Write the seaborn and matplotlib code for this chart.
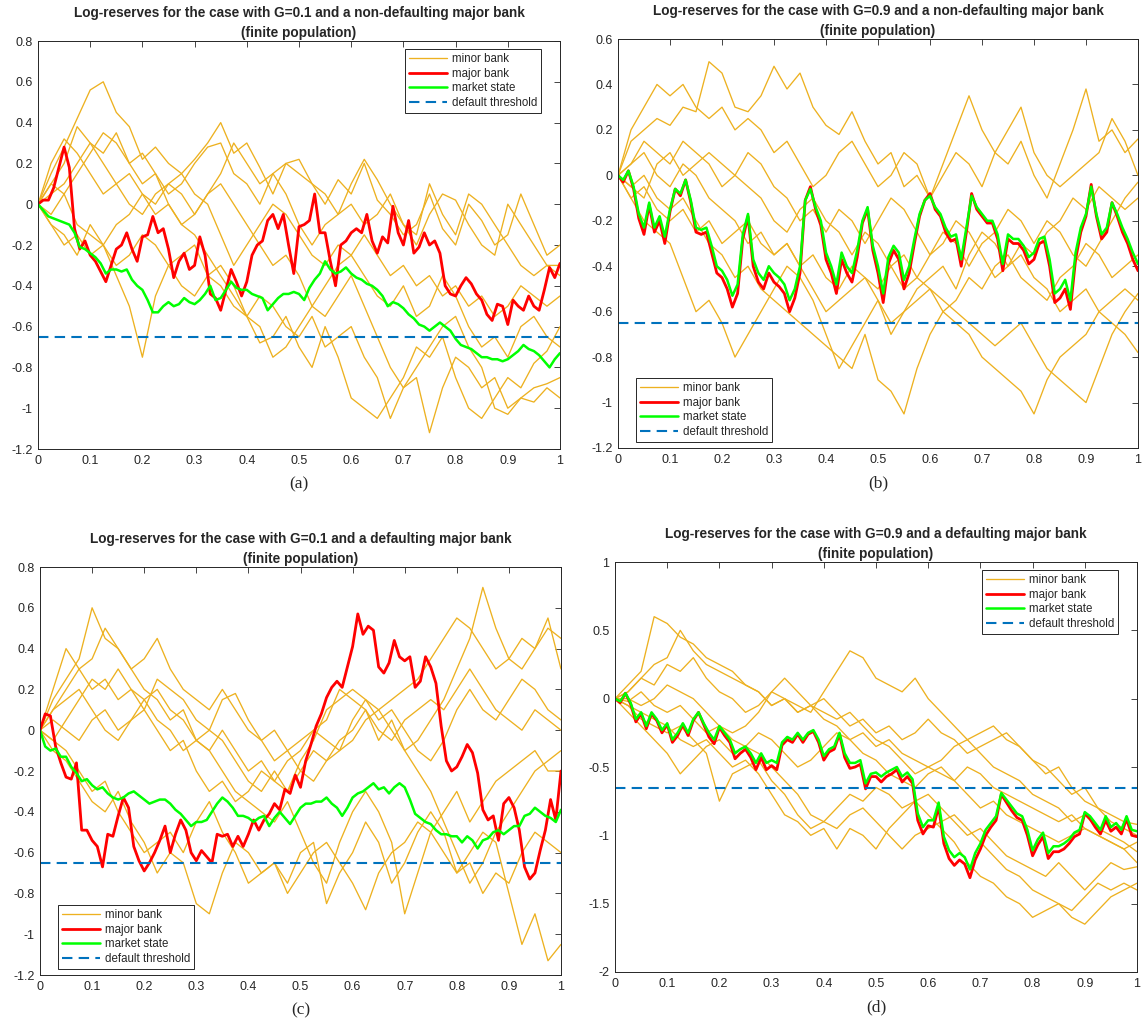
import numpy as np
import seaborn as sns
import matplotlib.pyplot as plt

# ---------------- data ----------------
# time grids
t_fine = np.round(np.arange(0, 101) / 100, 2)      # major bank / market state
t_coarse = np.round(np.arange(0, 41) / 40, 3)      # minor banks

# (a) G=0.1, non-defaulting major bank
minor_a = [
    [0, 0.15, 0.28, 0.42, 0.56, 0.6, 0.45, 0.38, 0.22, 0.28, 0.2, 0.15, 0.22, 0.3, 0.4, 0.25, 0.3, 0.18, 0.05, 0.2,
     0.15, 0.1, 0.0, 0.12, 0.05, 0.2, 0.02, -0.05, -0.15, -0.1, 0.05, -0.12, -0.2, 0.0, -0.08, -0.2, -0.15, 0.05, -0.1, -0.25, -0.2],
    [0, 0.1, 0.2, 0.38, 0.3, 0.25, 0.35, 0.2, 0.1, 0.15, 0.05, 0.1, 0.2, 0.28, 0.3, 0.15, 0.1, 0.0, 0.15, 0.2,
     0.22, 0.1, 0.05, -0.05, 0.1, 0.22, 0.12, 0.0, -0.1, -0.2, -0.05, 0.05, 0.02, -0.1, -0.2, -0.25, 0.0, -0.1, -0.2, -0.3, -0.35],
    [0, -0.05, 0.05, -0.1, -0.15, -0.2, -0.35, -0.5, -0.75, -0.45, -0.3, -0.25, -0.2, -0.35, -0.4, -0.5, -0.55, -0.6, -0.75, -0.7,
     -0.6, -0.5, -0.55, -0.45, -0.35, -0.5, -0.65, -0.8, -0.9, -0.85, -1.12, -0.9, -0.75, -0.8, -0.9, -0.85, -1.0, -0.95, -0.9, -0.88, -0.85],
    [0, -0.1, -0.2, -0.15, -0.25, -0.2, -0.1, -0.05, 0.05, -0.05, 0.0, -0.1, -0.15, -0.25, -0.35, -0.45, -0.55, -0.68, -0.65, -0.55,
     -0.7, -0.8, -0.6, -0.75, -0.95, -1.0, -1.05, -0.95, -0.85, -0.7, -0.75, -0.65, -0.85, -1.0, -1.05, -0.95, -0.85, -0.9, -0.78, -0.72, -0.6],
    [0, 0.05, 0.1, 0.2, 0.3, 0.2, 0.1, 0.15, 0.05, 0.0, 0.1, 0.05, -0.05, 0.05, 0.1, 0.0, -0.1, -0.2, -0.3, -0.25,
     -0.35, -0.5, -0.4, -0.3, -0.25, -0.35, -0.45, -0.5, -0.4, -0.55, -0.5, -0.35, -0.45, -0.6, -0.7, -0.65, -0.75, -0.6, -0.55, -0.65, -0.7],
    [0, 0.2, 0.32, 0.25, 0.15, 0.05, 0.1, 0.0, -0.05, 0.05, 0.1, 0.15, 0.05, 0.0, -0.15, -0.3, -0.2, -0.1, 0.0, -0.05,
     -0.15, -0.25, -0.3, -0.2, -0.25, -0.15, -0.25, -0.35, -0.3, -0.4, -0.35, -0.45, -0.4, -0.5, -0.45, -0.55, -0.5, -0.4, -0.45, -0.5, -0.45],
    [0, -0.1, -0.15, -0.25, -0.1, -0.2, -0.3, -0.25, -0.15, -0.2, -0.3, -0.4, -0.45, -0.35, -0.3, -0.4, -0.55, -0.45, -0.5, -0.6,
     -0.65, -0.55, -0.7, -0.65, -0.6, -0.75, -0.85, -1.05, -0.9, -0.8, -0.7, -0.6, -0.55, -0.7, -0.8, -1.0, -1.03, -0.95, -0.97, -0.9, -0.95],
    [0, 0.1, 0.05, 0.15, 0.25, 0.35, 0.3, 0.2, 0.25, 0.15, 0.0, -0.1, -0.05, 0.05, 0.15, 0.3, 0.2, 0.1, 0.15, 0.05,
     -0.1, -0.2, -0.1, -0.05, 0.0, -0.1, -0.05, 0.05, -0.1, -0.15, 0.1, -0.05, -0.15, 0.05, 0.0, -0.1, -0.2, -0.3, -0.35, -0.3, -0.3],
]
major_a = [0, 0.02, 0.02, 0.08, 0.18, 0.28, 0.18, -0.12, -0.22, -0.18,
           -0.25, -0.28, -0.33, -0.38, -0.30, -0.22, -0.20, -0.14, -0.22, -0.28,
           -0.16, -0.15, -0.06, -0.14, -0.12, -0.22, -0.36, -0.28, -0.24, -0.32,
           -0.30, -0.16, -0.25, -0.44, -0.46, -0.52, -0.42, -0.32, -0.38, -0.45,
           -0.38, -0.25, -0.20, -0.18, -0.08, -0.05, -0.12, -0.05, -0.20, -0.34,
           -0.11, -0.10, -0.08, 0.05, -0.14, -0.14, -0.28, -0.40, -0.20, -0.18,
           -0.14, -0.12, -0.14, -0.05, -0.18, -0.24, -0.16, -0.19, -0.01, -0.14,
           -0.20, -0.08, -0.24, -0.21, -0.14, -0.20, -0.18, -0.24, -0.40, -0.44,
           -0.45, -0.40, -0.36, -0.39, -0.44, -0.47, -0.54, -0.57, -0.49, -0.50,
           -0.59, -0.47, -0.50, -0.52, -0.45, -0.50, -0.52, -0.42, -0.31, -0.36,
           -0.29]
market_a = [0, -0.03, -0.06, -0.07, -0.08, -0.09, -0.10, -0.14, -0.21, -0.22,
            -0.24, -0.26, -0.29, -0.34, -0.32, -0.32, -0.33, -0.32, -0.37, -0.40,
            -0.42, -0.47, -0.53, -0.53, -0.50, -0.48, -0.50, -0.49, -0.46, -0.48,
            -0.49, -0.47, -0.44, -0.40, -0.47, -0.46, -0.42, -0.38, -0.41, -0.42,
            -0.42, -0.44, -0.45, -0.46, -0.52, -0.49, -0.46, -0.44, -0.44, -0.43,
            -0.44, -0.47, -0.41, -0.37, -0.34, -0.28, -0.32, -0.34, -0.33, -0.31,
            -0.34, -0.36, -0.37, -0.39, -0.40, -0.42, -0.45, -0.50, -0.48, -0.49,
            -0.51, -0.54, -0.56, -0.59, -0.60, -0.62, -0.60, -0.58, -0.60, -0.62,
            -0.66, -0.69, -0.70, -0.71, -0.73, -0.75, -0.75, -0.76, -0.76, -0.77,
            -0.76, -0.74, -0.72, -0.69, -0.71, -0.72, -0.74, -0.77, -0.80, -0.76,
            -0.73]

# (b) G=0.9, non-defaulting major bank
minor_b = [
    [0, 0.15, 0.2, 0.25, 0.22, 0.3, 0.28, 0.5, 0.45, 0.3, 0.28, 0.35, 0.48, 0.38, 0.45, 0.3, 0.22, 0.18, 0.28, 0.15,
     0.05, 0.1, -0.05, 0.0, -0.1, 0.05, 0.2, 0.35, 0.2, 0.1, 0.05, 0.15, 0.0, -0.1, 0.05, 0.2, 0.38, 0.15, 0.2, 0.1, 0.16],
    [0, 0.2, 0.3, 0.4, 0.35, 0.4, 0.3, 0.25, 0.3, 0.2, 0.25, 0.2, 0.1, 0.15, 0.05, -0.05, 0.0, 0.1, 0.15, 0.05,
     -0.05, 0.0, 0.1, 0.05, -0.1, 0.0, 0.1, 0.05, -0.05, 0.1, 0.2, 0.3, 0.1, 0.0, -0.05, 0.0, 0.05, 0.1, 0.25, 0.15, 0.0],
    [0, -0.1, -0.2, -0.25, -0.3, -0.45, -0.6, -0.55, -0.65, -0.8, -0.7, -0.6, -0.5, -0.4, -0.45, -0.55, -0.7, -0.85, -0.75, -0.65,
     -0.55, -0.7, -0.6, -0.5, -0.45, -0.4, -0.5, -0.35, -0.25, -0.3, -0.4, -0.35, -0.45, -0.5, -0.6, -0.55, -0.5, -0.6, -0.55, -0.5, -0.55],
    [0, -0.05, 0.0, -0.1, -0.15, -0.1, -0.2, -0.3, -0.35, -0.45, -0.4, -0.5, -0.55, -0.6, -0.65, -0.7, -0.75, -0.8, -0.85, -0.7,
     -0.9, -0.95, -1.05, -0.85, -0.7, -0.6, -0.55, -0.45, -0.5, -0.4, -0.35, -0.45, -0.5, -0.55, -0.45, -0.4, -0.3, -0.35, -0.45, -0.4, -0.35],
    [0, 0.05, 0.1, 0.0, -0.05, 0.05, 0.0, -0.1, -0.15, -0.2, -0.3, -0.25, -0.35, -0.3, -0.4, -0.5, -0.6, -0.55, -0.5, -0.45,
     -0.55, -0.65, -0.6, -0.55, -0.5, -0.6, -0.65, -0.7, -0.8, -0.85, -0.9, -0.95, -1.05, -0.9, -0.8, -0.75, -0.7, -0.6, -0.65, -0.7, -0.78],
    [0, -0.1, -0.05, -0.15, -0.2, -0.15, -0.25, -0.2, -0.3, -0.25, -0.2, -0.3, -0.35, -0.3, -0.4, -0.35, -0.45, -0.5, -0.4, -0.45,
     -0.5, -0.4, -0.35, -0.45, -0.5, -0.55, -0.6, -0.65, -0.7, -0.75, -0.7, -0.65, -0.75, -0.85, -0.9, -0.95, -1.0, -0.85, -0.7, -0.6, -0.52],
    [0, 0.05, 0.15, 0.1, 0.05, 0.15, 0.1, 0.05, -0.05, 0.0, 0.1, 0.05, -0.05, -0.1, -0.2, -0.15, -0.25, -0.15, -0.2, -0.3,
     -0.2, -0.1, -0.15, -0.25, -0.35, -0.3, -0.2, -0.25, -0.35, -0.45, -0.4, -0.3, -0.35, -0.25, -0.2, -0.1, -0.15, -0.05, -0.1, -0.15, -0.1],
    [0, -0.05, -0.1, 0.05, 0.1, 0.0, 0.05, 0.1, 0.05, 0.0, -0.05, -0.1, -0.2, -0.25, -0.15, -0.1, -0.2, -0.25, -0.35, -0.25,
     -0.3, -0.4, -0.5, -0.45, -0.35, -0.25, -0.3, -0.4, -0.3, -0.25, -0.15, -0.2, -0.3, -0.2, -0.25, -0.35, -0.4, -0.3, -0.2, -0.1, -0.03],
]
major_b = [0, -0.03, 0.02, -0.06, -0.19, -0.26, -0.13, -0.25, -0.20, -0.30,
           -0.16, -0.06, -0.09, -0.02, -0.12, -0.25, -0.26, -0.25, -0.34, -0.43,
           -0.45, -0.50, -0.58, -0.52, -0.28, -0.18, -0.40, -0.47, -0.50, -0.43,
           -0.47, -0.49, -0.52, -0.60, -0.54, -0.43, -0.11, -0.05, -0.15, -0.22,
           -0.37, -0.43, -0.52, -0.37, -0.43, -0.47, -0.36, -0.21, -0.15, -0.33,
           -0.43, -0.56, -0.39, -0.33, -0.37, -0.50, -0.43, -0.30, -0.18, -0.11,
           -0.08, -0.15, -0.18, -0.25, -0.29, -0.28, -0.40, -0.25, -0.08, -0.15,
           -0.18, -0.21, -0.21, -0.28, -0.42, -0.28, -0.30, -0.30, -0.33, -0.39,
           -0.37, -0.30, -0.29, -0.40, -0.56, -0.54, -0.50, -0.59, -0.37, -0.25,
           -0.18, -0.04, -0.18, -0.28, -0.25, -0.12, -0.18, -0.25, -0.30, -0.37,
           -0.42]
market_b = [0, -0.02, 0.02, -0.05, -0.17, -0.23, -0.12, -0.23, -0.18, -0.27,
            -0.15, -0.06, -0.08, -0.02, -0.11, -0.23, -0.24, -0.23, -0.31, -0.40,
            -0.42, -0.46, -0.53, -0.48, -0.26, -0.17, -0.37, -0.43, -0.46, -0.40,
            -0.43, -0.45, -0.48, -0.55, -0.50, -0.40, -0.11, -0.06, -0.14, -0.20,
            -0.34, -0.40, -0.48, -0.34, -0.40, -0.43, -0.33, -0.20, -0.14, -0.31,
            -0.40, -0.52, -0.36, -0.31, -0.34, -0.46, -0.40, -0.28, -0.17, -0.11,
            -0.09, -0.14, -0.17, -0.23, -0.27, -0.26, -0.37, -0.23, -0.09, -0.14,
            -0.17, -0.20, -0.20, -0.26, -0.39, -0.26, -0.28, -0.28, -0.31, -0.36,
            -0.34, -0.28, -0.27, -0.37, -0.52, -0.50, -0.46, -0.55, -0.34, -0.23,
            -0.17, -0.05, -0.17, -0.26, -0.23, -0.12, -0.17, -0.23, -0.28, -0.34,
            -0.39]

# (c) G=0.1, defaulting major bank
minor_c = [
    [0, 0.15, 0.25, 0.35, 0.6, 0.45, 0.4, 0.3, 0.2, 0.15, 0.05, 0.1, -0.05, -0.1, 0.0, -0.1, -0.2, -0.15, -0.25, -0.3,
     -0.2, -0.1, -0.15, -0.05, 0.0, 0.1, -0.05, 0.05, -0.1, -0.05, 0.05, 0.15, 0.3, 0.45, 0.7, 0.5, 0.35, 0.3, 0.4, 0.55, 0.3],
    [0, 0.1, 0.2, 0.3, 0.35, 0.5, 0.4, 0.3, 0.35, 0.45, 0.3, 0.2, 0.15, 0.1, 0.2, 0.1, 0.0, -0.05, -0.15, -0.1,
     -0.2, -0.25, -0.15, -0.1, 0.05, 0.15, 0.05, 0.1, 0.0, -0.1, -0.15, -0.05, 0.1, 0.2, 0.1, 0.05, 0.15, 0.25, 0.2, 0.1, 0.05],
    [0, 0.2, 0.4, 0.3, 0.2, 0.25, 0.15, 0.2, 0.1, 0.25, 0.2, 0.15, 0.05, 0.0, 0.15, 0.18, 0.05, -0.05, 0.0, -0.1,
     -0.05, 0.0, 0.05, 0.2, 0.15, 0.1, 0.0, -0.05, 0.05, 0.1, 0.15, 0.1, 0.2, 0.3, 0.2, 0.1, 0.05, 0.0, 0.1, 0.05, 0.0],
    [0, -0.1, -0.15, -0.25, -0.35, -0.4, -0.3, -0.45, -0.55, -0.7, -0.6, -0.65, -0.85, -0.9, -0.7, -0.55, -0.6, -0.7, -0.65, -0.75,
     -0.6, -0.55, -0.85, -0.7, -0.6, -0.45, -0.55, -0.75, -0.65, -0.5, -0.4, -0.5, -0.7, -0.65, -0.8, -0.7, -0.75, -0.6, -0.5, -0.55, -0.6],
    [0, -0.05, -0.1, -0.2, -0.3, -0.25, -0.4, -0.5, -0.6, -0.55, -0.5, -0.6, -0.45, -0.35, -0.5, -0.6, -0.75, -0.7, -0.65, -0.8,
     -0.7, -0.6, -0.55, -0.65, -0.75, -0.88, -0.7, -0.6, -0.55, -0.45, -0.5, -0.6, -0.7, -0.6, -0.5, -0.55, -0.8, -1.05, -0.9, -1.13, -1.05],
    [0, 0.05, 0.0, -0.05, 0.05, 0.1, 0.0, 0.05, 0.15, 0.2, 0.1, 0.05, -0.05, -0.1, -0.2, -0.3, -0.35, -0.4, -0.45, -0.35,
     -0.5, -0.65, -0.75, -0.55, -0.4, -0.3, -0.4, -0.55, -0.9, -0.7, -0.5, -0.4, -0.3, -0.45, -0.35, -0.25, -0.2, -0.15, -0.1, -0.2, -0.2],
    [0, 0.1, 0.15, 0.2, 0.1, 0.0, -0.05, 0.05, 0.1, 0.0, -0.1, -0.05, -0.2, -0.3, -0.25, -0.35, -0.3, -0.2, -0.25, -0.15,
     -0.1, 0.0, -0.05, -0.1, -0.05, 0.05, 0.1, 0.0, -0.1, -0.2, -0.3, -0.45, -0.6, -0.75, -0.65, -0.5, -0.4, -0.3, -0.2, -0.15, -0.1],
    [0, -0.05, 0.05, 0.15, 0.25, 0.2, 0.3, 0.2, 0.15, 0.05, 0.0, -0.1, -0.05, 0.0, -0.05, -0.15, -0.25, -0.3, -0.2, -0.3,
     -0.15, -0.05, 0.1, 0.15, 0.2, 0.15, 0.1, 0.15, 0.2, 0.25, 0.35, 0.45, 0.55, 0.5, 0.4, 0.3, 0.35, 0.45, 0.4, 0.5, 0.45],
]
major_c = [0, 0.08, 0.07, -0.08, -0.16, -0.23, -0.24, -0.16, -0.49, -0.49,
           -0.54, -0.57, -0.67, -0.51, -0.52, -0.42, -0.33, -0.38, -0.57, -0.64,
           -0.69, -0.65, -0.60, -0.54, -0.47, -0.60, -0.51, -0.44, -0.49, -0.60,
           -0.64, -0.59, -0.62, -0.65, -0.51, -0.52, -0.51, -0.57, -0.52, -0.57,
           -0.51, -0.44, -0.49, -0.44, -0.41, -0.36, -0.39, -0.29, -0.31, -0.22,
           -0.28, -0.15, -0.07, 0.02, 0.08, 0.16, 0.21, 0.24, 0.21, 0.31,
           0.41, 0.57, 0.47, 0.51, 0.49, 0.31, 0.28, 0.33, 0.44, 0.36,
           0.34, 0.36, 0.21, 0.24, 0.36, 0.31, 0.23, 0.02, -0.15, -0.20,
           -0.18, -0.13, -0.07, -0.11, -0.21, -0.39, -0.44, -0.42, -0.54, -0.36,
           -0.33, -0.38, -0.49, -0.67, -0.73, -0.70, -0.59, -0.49, -0.34, -0.44,
           -0.20]
market_c = [0, -0.08, -0.10, -0.09, -0.13, -0.13, -0.18, -0.21, -0.25, -0.24,
            -0.27, -0.29, -0.28, -0.31, -0.33, -0.34, -0.33, -0.31, -0.30, -0.32,
            -0.34, -0.36, -0.35, -0.34, -0.34, -0.36, -0.39, -0.41, -0.44, -0.47,
            -0.45, -0.45, -0.44, -0.40, -0.36, -0.33, -0.35, -0.38, -0.42, -0.42,
            -0.43, -0.45, -0.43, -0.42, -0.47, -0.43, -0.40, -0.43, -0.46, -0.42,
            -0.38, -0.36, -0.36, -0.35, -0.35, -0.33, -0.36, -0.38, -0.42, -0.38,
            -0.33, -0.31, -0.30, -0.28, -0.26, -0.29, -0.28, -0.31, -0.28, -0.26,
            -0.28, -0.34, -0.41, -0.43, -0.45, -0.46, -0.49, -0.51, -0.51, -0.52,
            -0.52, -0.55, -0.52, -0.54, -0.58, -0.54, -0.53, -0.50, -0.49, -0.51,
            -0.49, -0.47, -0.47, -0.42, -0.41, -0.38, -0.40, -0.42, -0.43, -0.45,
            -0.39]

# (d) G=0.9, defaulting major bank
minor_d = [
    [0, 0.1, 0.2, 0.6, 0.55, 0.45, 0.4, 0.3, 0.25, 0.2, 0.1, 0.05, -0.05, 0.0, -0.1, -0.05, -0.15, -0.2, -0.3, -0.25,
     -0.35, -0.3, -0.4, -0.45, -0.5, -0.55, -0.6, -0.5, -0.55, -0.65, -0.7, -0.75, -0.8, -0.85, -0.9, -0.85, -0.95, -1.0, -1.05, -1.1, -1.2],
    [0, 0.05, 0.15, 0.1, 0.25, 0.2, 0.3, 0.15, 0.05, 0.0, -0.1, -0.05, 0.05, 0.0, -0.05, -0.1, 0.05, 0.2, 0.35, 0.3,
     0.15, 0.1, 0.05, 0.15, 0.0, -0.1, -0.2, -0.3, -0.25, -0.2, -0.3, -0.35, -0.45, -0.55, -0.5, -0.65, -0.75, -0.8, -0.85, -0.9, -0.92],
    [0, -0.05, -0.1, -0.15, -0.2, -0.3, -0.35, -0.3, -0.4, -0.5, -0.45, -0.55, -0.7, -0.85, -0.9, -1.0, -0.95, -1.1, -0.95, -1.0,
     -1.1, -0.95, -0.85, -0.75, -0.85, -0.95, -1.05, -1.2, -1.3, -1.35, -1.45, -1.5, -1.6, -1.55, -1.5, -1.6, -1.65, -1.55, -1.45, -1.4, -1.35],
    [0, -0.05, -0.15, -0.2, -0.25, -0.2, -0.3, -0.4, -0.75, -0.55, -0.5, -0.45, -0.6, -0.7, -0.85, -0.95, -0.9, -0.8, -0.7, -0.75,
     -0.65, -0.7, -0.8, -0.75, -0.7, -0.8, -0.9, -1.0, -0.95, -1.05, -1.15, -1.2, -1.25, -1.3, -1.2, -1.3, -1.4, -1.3, -1.2, -1.25, -1.23],
    [0, -0.1, -0.2, -0.3, -0.4, -0.55, -0.45, -0.35, -0.3, -0.4, -0.35, -0.25, -0.3, -0.4, -0.5, -0.45, -0.35, -0.25, -0.3, -0.4,
     -0.45, -0.55, -0.6, -0.65, -0.55, -0.5, -0.6, -0.7, -0.8, -0.75, -0.85, -0.9, -0.95, -1.0, -1.05, -1.0, -0.95, -1.0, -1.05, -1.1, -1.05],
    [0, 0.05, 0.15, 0.25, 0.3, 0.5, 0.35, 0.25, 0.2, 0.15, 0.1, 0.05, -0.05, 0.0, -0.1, -0.05, 0.0, -0.1, -0.2, -0.15,
     -0.25, -0.2, -0.3, -0.25, -0.15, -0.25, -0.3, -0.4, -0.35, -0.3, -0.25, -0.35, -0.45, -0.5, -0.6, -0.7, -0.65, -0.8, -0.9, -0.95, -1.0],
    [0, 0.0, -0.05, 0.0, 0.1, 0.05, 0.0, -0.1, -0.2, -0.25, -0.2, -0.1, 0.05, 0.15, 0.05, -0.05, -0.1, -0.15, -0.1, -0.2,
     -0.3, -0.35, -0.45, -0.55, -0.5, -0.45, -0.35, -0.3, -0.4, -0.5, -0.55, -0.6, -0.7, -0.75, -0.8, -0.9, -0.85, -0.95, -1.0, -1.05, -1.12],
    [0, -0.02, 0.05, -0.05, -0.1, -0.05, -0.15, -0.25, -0.2, -0.3, -0.35, -0.4, -0.5, -0.6, -0.7, -0.85, -0.9, -0.95, -0.85, -0.8,
     -0.9, -1.0, -1.1, -1.0, -0.95, -0.9, -0.85, -0.95, -1.05, -1.15, -1.25, -1.3, -1.4, -1.45, -1.5, -1.55, -1.45, -1.35, -1.4, -1.35, -1.4],
]
major_d = [0, -0.03, 0.04, -0.04, -0.17, -0.11, -0.22, -0.11, -0.16, -0.25,
           -0.19, -0.32, -0.27, -0.19, -0.27, -0.16, -0.10, -0.19, -0.28, -0.33,
           -0.21, -0.27, -0.32, -0.44, -0.40, -0.37, -0.43, -0.52, -0.43, -0.52,
           -0.49, -0.52, -0.34, -0.30, -0.32, -0.26, -0.32, -0.26, -0.24, -0.32,
           -0.45, -0.39, -0.37, -0.26, -0.43, -0.51, -0.50, -0.48, -0.66, -0.57,
           -0.57, -0.61, -0.57, -0.55, -0.52, -0.61, -0.57, -0.62, -0.89, -0.99,
           -0.93, -0.94, -0.79, -1.06, -1.17, -1.22, -1.18, -1.21, -1.31, -1.18,
           -1.10, -1.00, -0.94, -0.89, -0.70, -0.76, -0.82, -0.87, -0.89, -1.00,
           -1.15, -1.07, -1.01, -1.17, -1.12, -1.12, -1.10, -1.06, -1.01, -0.99,
           -0.84, -0.88, -0.94, -0.99, -0.89, -0.97, -0.94, -0.99, -0.88, -1.00,
           -1.01]
market_d = [0, -0.02, 0.04, -0.03, -0.15, -0.10, -0.20, -0.10, -0.15, -0.23,
            -0.18, -0.30, -0.25, -0.18, -0.25, -0.15, -0.10, -0.18, -0.25, -0.30,
            -0.20, -0.25, -0.30, -0.40, -0.37, -0.35, -0.40, -0.47, -0.40, -0.47,
            -0.45, -0.47, -0.32, -0.28, -0.30, -0.25, -0.30, -0.25, -0.23, -0.30,
            -0.42, -0.37, -0.35, -0.25, -0.40, -0.47, -0.47, -0.45, -0.62, -0.55,
            -0.54, -0.57, -0.54, -0.52, -0.50, -0.57, -0.54, -0.59, -0.84, -0.94,
            -0.89, -0.89, -0.76, -1.01, -1.11, -1.16, -1.13, -1.16, -1.25, -1.13,
            -1.06, -0.96, -0.91, -0.86, -0.69, -0.74, -0.79, -0.84, -0.86, -0.96,
            -1.11, -1.03, -0.98, -1.13, -1.08, -1.08, -1.06, -1.03, -0.98, -0.96,
            -0.83, -0.86, -0.91, -0.96, -0.86, -0.94, -0.91, -0.96, -0.86, -0.96,
            -0.97]

threshold = -0.65

titles = [
    "Log-reserves for the case with G=0.1 and a non-defaulting major bank\n(finite population)",
    "Log-reserves for the case with G=0.9 and a non-defaulting major bank\n(finite population)",
    "Log-reserves for the case with G=0.1 and a defaulting major bank\n(finite population)",
    "Log-reserves for the case with G=0.9 and a defaulting major bank\n(finite population)",
]
panel_tags = ["(a)", "(b)", "(c)", "(d)"]
yticks_all = [
    [-1.2, -1, -0.8, -0.6, -0.4, -0.2, 0, 0.2, 0.4, 0.6, 0.8],
    [-1.2, -1, -0.8, -0.6, -0.4, -0.2, 0, 0.2, 0.4, 0.6],
    [-1.2, -1, -0.8, -0.6, -0.4, -0.2, 0, 0.2, 0.4, 0.6, 0.8],
    [-2, -1.5, -1, -0.5, 0, 0.5, 1],
]
xticks = [0, 0.1, 0.2, 0.3, 0.4, 0.5, 0.6, 0.7, 0.8, 0.9, 1]

# ---------------- styling ----------------
sns.set_style("white")
plt.rcParams['font.family'] = ['Liberation Sans', 'DejaVu Sans']

C_MINOR = "#EDB120"
C_MAJOR = "#FF0000"
C_MARKET = "#00FF00"
C_THR = "#0072BD"

W, H = 1145, 1023
fig = plt.figure(figsize=(W / 100, H / 100), dpi=100)

# axes boxes in pixels: left, top, right, bottom
boxes = [(38, 41, 560, 449), (618, 39, 1138, 448), (40, 567, 561, 975), (615, 562, 1137, 972)]
leg_locs = ["upper right", "lower left", "lower left", "upper right"]
panels = [
    (minor_a, major_a, market_a),
    (minor_b, major_b, market_b),
    (minor_c, major_c, market_c),
    (minor_d, major_d, market_d),
]

for k, (l, t, r, b) in enumerate(boxes):
    ax = fig.add_axes([l / W, 1 - b / H, (r - l) / W, (b - t) / H])
    minors, major, market = panels[k]

    for j, path in enumerate(minors):
        sns.lineplot(x=t_coarse, y=path, ax=ax, color=C_MINOR, lw=0.95,
                     label="minor bank" if j == 0 else None, estimator=None, sort=False)
    sns.lineplot(x=t_fine, y=major, ax=ax, color=C_MAJOR, lw=2.0, label="major bank",
                 estimator=None, sort=False)
    sns.lineplot(x=t_fine, y=market, ax=ax, color=C_MARKET, lw=1.8, label="market state",
                 estimator=None, sort=False)
    ax.axhline(threshold, color=C_THR, lw=1.5, ls=(0, (5, 3)), label="default threshold")

    yt = yticks_all[k]
    ax.set_xlim(0, 1)
    ax.set_ylim(yt[0], yt[-1])
    ax.set_xticks(xticks)
    ax.set_xticklabels([f"{v:g}" for v in xticks])
    ax.set_yticks(yt)
    ax.set_yticklabels([f"{v:g}" for v in yt])
    ax.tick_params(direction="in", length=4, width=0.6, top=True, right=True,
                   labelsize=9, colors="#262626", pad=4)
    for s in ax.spines.values():
        s.set_linewidth(0.7)
        s.set_color("#262626")
    ax.set_xlabel("")
    ax.set_ylabel("")
    ax.set_title(titles[k], fontsize=9.8, fontweight="bold", pad=3, linespacing=1.5)

    # legend placement (pixel gaps from axes corner)
    if leg_locs[k] == "upper right":
        anchor = (1 - 19 / (r - l), 1 - 8 / (b - t))
    else:
        anchor = (18 / (r - l), 6 / (b - t))
    leg = ax.legend(loc=leg_locs[k], bbox_to_anchor=anchor, borderaxespad=0,
                    fontsize=8.3, handlelength=3.3, handletextpad=0.4,
                    labelspacing=0.22, borderpad=0.35, fancybox=False,
                    framealpha=1, edgecolor="#262626")
    leg.get_frame().set_linewidth(0.7)

    fig.text(((l + r) / 2) / W, 1 - (b + 35) / H, panel_tags[k],
             ha="center", va="center", fontsize=12.5, family="Liberation Serif")

fig.savefig("out.png", dpi=100)
